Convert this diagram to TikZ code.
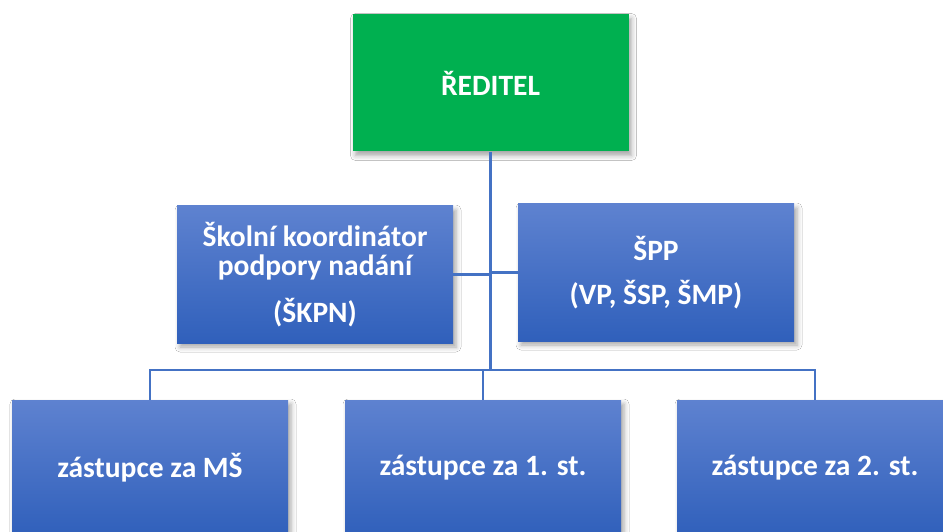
\documentclass[tikz,border=0pt]{standalone}
\usepackage{fontspec}
\setmainfont{Carlito}
\usetikzlibrary{shadows.blur}
\definecolor{blueTop}{RGB}{94,130,208}
\definecolor{blueBot}{RGB}{48,96,187}
\definecolor{topGreen}{RGB}{0,176,80}
\definecolor{lineBlue}{RGB}{68,114,196}
\tikzset{
  box/.style={rectangle, minimum width=276pt, minimum height=137pt, inner sep=0pt,
    align=center, text=white,
    font=\fontsize{29.5}{29}\selectfont\bfseries,
    blur shadow={shadow xshift=3pt, shadow yshift=-4pt, shadow blur radius=5pt, shadow opacity=35}},
  bluebox/.style={box, top color=blueTop, bottom color=blueBot, draw=none},
  greenbox/.style={box, fill=topGreen, draw=none},
  conn/.style={draw=lineBlue, line width=2.6pt}
}
\begin{document}
\begin{tikzpicture}[x=1pt,y=-1pt]
\useasboundingbox (0,0) rectangle (943,532);
\clip (0,0) rectangle (943,532);
\fill[white] (0,0) rectangle (943,532);
\coordinate (bus) at (0,370);
% connectors first (under the boxes)
\node[greenbox] (top) at (490.5,83) {ŘEDITEL};
\node[bluebox, minimum height=137pt] (skpn) at (315,274.5) {Školní koordinátor\\podpory nadání\\[18pt](ŠKPN)};
\node[bluebox, minimum height=137pt] (spp) at (656,272.5) {ŠPP\\[15pt](VP, ŠSP, ŠMP)};
\node[bluebox, minimum height=136pt] (ms) at (150,468) {zástupce za MŠ};
\node[bluebox, minimum height=136pt] (st1) at (483,468) {zástupce za 1. st.};
\node[bluebox, minimum height=136pt] (st2) at (815,468) {zástupce za 2. st.};
\begin{scope}[on background layer/.style={}]
\draw[conn] (top.south) -- (top.south |- bus);
\draw[conn] (skpn.east) -- (skpn.east -| top.south);
\draw[conn] (spp.west) -- (spp.west -| top.south);
\draw[conn] (ms.north) -- (ms.north |- bus) -- (st2.north |- bus) -- (st2.north);
\draw[conn] (st1.north) -- (st1.north |- bus);
\end{scope}
\end{tikzpicture}
\end{document}
